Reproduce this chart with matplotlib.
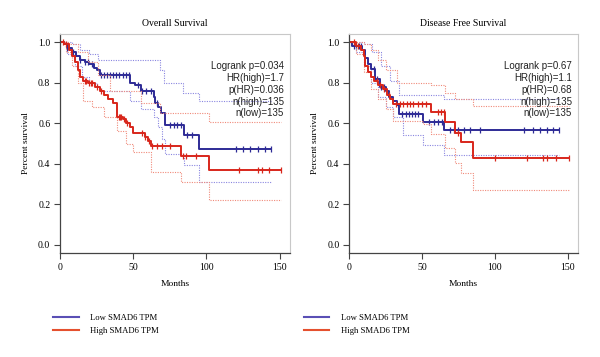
import numpy as np
import matplotlib
matplotlib.use("Agg")
import matplotlib.pyplot as plt
from matplotlib.lines import Line2D

# ── Overall survival ──────────────────────────────────────────────
os_low_t = [0, 3, 5, 8, 11, 14, 17, 20, 23, 25, 27, 48, 51, 55, 64, 65, 67, 69, 72, 85, 95, 144]
os_low_s = [1.0, 0.99, 0.97, 0.95, 0.93, 0.91, 0.90, 0.89, 0.87, 0.86, 0.84, 0.80, 0.79, 0.76,
            0.73, 0.70, 0.68, 0.65, 0.59, 0.54, 0.475, 0.475]
os_low_cens = [5, 9, 14, 17, 19, 22, 28, 30, 32, 34, 36, 38, 40, 43, 45, 47, 53, 56, 59, 62,
               66, 75, 78, 80, 83, 87, 90, 120, 125, 130, 135, 140, 144]
os_low_up_t = [0, 8, 14, 20, 26, 66, 68, 71, 84, 95, 144]
os_low_up_s = [1.0, 0.99, 0.96, 0.94, 0.91, 0.91, 0.86, 0.80, 0.75, 0.71, 0.71]
os_low_lo_t = [0, 5, 10, 15, 20, 25, 27, 48, 55, 64, 67, 70, 72, 85, 95, 144]
os_low_lo_s = [1.0, 0.94, 0.88, 0.83, 0.80, 0.78, 0.76, 0.71, 0.67, 0.63, 0.58, 0.52, 0.45,
               0.395, 0.31, 0.31]

os_high_t = [0, 3, 6, 8, 10, 12, 14, 16, 19, 24, 27, 30, 33, 36, 39, 43, 45, 48, 50, 58, 60,
             62, 83, 102, 151]
os_high_s = [1.0, 0.99, 0.96, 0.93, 0.90, 0.86, 0.83, 0.81, 0.80, 0.78, 0.76, 0.74, 0.72, 0.70,
             0.63, 0.62, 0.60, 0.58, 0.55, 0.53, 0.51, 0.49, 0.44, 0.37, 0.37]
os_high_cens = [2, 4, 17, 18, 20, 21, 22, 25, 28, 40, 41, 42, 44, 46, 56, 58, 61, 63, 66, 70,
                75, 84, 86, 93, 122, 135, 138, 143, 151]
os_high_up_t = [0, 6, 12, 19, 26, 34, 55, 68, 102, 151]
os_high_up_s = [1.0, 0.99, 0.95, 0.90, 0.84, 0.76, 0.70, 0.65, 0.605, 0.605]
os_high_lo_t = [0, 4, 8, 12, 16, 22, 30, 39, 45, 50, 62, 83, 102, 151]
os_high_lo_s = [1.0, 0.95, 0.88, 0.80, 0.71, 0.68, 0.63, 0.56, 0.50, 0.46, 0.36, 0.31, 0.22, 0.22]

# ── Disease free survival ─────────────────────────────────────────
dfs_low_t = [0, 2, 9, 11, 13, 15, 18, 21, 25, 27, 30, 33, 34, 51, 65, 144]
dfs_low_s = [1.0, 0.98, 0.96, 0.92, 0.89, 0.865, 0.82, 0.78, 0.76, 0.73, 0.71, 0.69, 0.645,
             0.605, 0.565, 0.565]
dfs_low_cens = [3, 5, 7, 8, 17, 19, 22, 24, 36, 39, 41, 43, 45, 47, 55, 58, 61, 64, 69, 72, 75,
                79, 83, 90, 120, 126, 131, 136, 140, 144]
dfs_low_up_t = [0, 10, 16, 22, 28, 34, 65, 144]
dfs_low_up_s = [1.0, 0.99, 0.95, 0.88, 0.81, 0.74, 0.72, 0.72]
dfs_low_lo_t = [0, 5, 10, 15, 20, 25, 30, 37, 51, 65, 144]
dfs_low_lo_s = [1.0, 0.95, 0.88, 0.80, 0.73, 0.68, 0.63, 0.54, 0.495, 0.445, 0.445]

dfs_high_t = [0, 5, 8, 10, 11, 13, 15, 17, 20, 23, 26, 28, 30, 56, 66, 73, 77, 85, 151]
dfs_high_s = [1.0, 0.98, 0.96, 0.93, 0.88, 0.85, 0.83, 0.81, 0.79, 0.77, 0.74, 0.72, 0.695,
              0.655, 0.605, 0.55, 0.505, 0.43, 0.43]
dfs_high_cens = [3, 6, 19, 21, 24, 27, 32, 35, 37, 40, 42, 44, 47, 50, 53, 61, 63, 65, 75, 100,
                 122, 133, 136, 142, 151]
dfs_high_up_t = [0, 10, 15, 20, 25, 33, 56, 66, 73, 85, 151]
dfs_high_up_s = [1.0, 0.99, 0.96, 0.91, 0.86, 0.80, 0.79, 0.75, 0.72, 0.685, 0.685]
dfs_high_lo_t = [0, 5, 10, 15, 20, 25, 30, 51, 56, 66, 73, 77, 85, 151]
dfs_high_lo_s = [1.0, 0.94, 0.85, 0.77, 0.72, 0.67, 0.61, 0.595, 0.545, 0.48, 0.405, 0.355,
                 0.27, 0.27]

os_stats = ["Logrank p=0.034", "HR(high)=1.7", "p(HR)=0.036", "n(high)=135", "n(low)=135"]
dfs_stats = ["Logrank p=0.67", "HR(high)=1.1", "p(HR)=0.68", "n(high)=135", "n(low)=135"]
legend_labels = ["Low SMAD6 TPM", "High SMAD6 TPM"]

BLUE = "#2e2b96"
RED = "#d8261b"
BLUE_CI = "#8a86e0"
RED_CI = "#f08a7a"
SERIF = "Liberation Serif"
SANS = "Liberation Sans"


def surv_at(t, s, x):
    idx = np.searchsorted(t, x, side="right") - 1
    return np.asarray(s)[idx]


def draw_km(ax, t, s, cens, up_t, up_s, lo_t, lo_s, col, ci_col):
    ax.step(up_t, up_s, where="post", color=ci_col, lw=0.8, ls=(0, (1, 1.2)))
    ax.step(lo_t, lo_s, where="post", color=ci_col, lw=0.8, ls=(0, (1, 1.2)))
    ax.step(t, s, where="post", color=col, lw=1.4)
    ax.plot(cens, surv_at(t, s, cens), ls="none", marker="|", ms=5, mew=0.9, color=col)


def style_axes(ax, title, stats):
    ax.set_xlim(0, 157)
    ax.set_ylim(-0.04, 1.04)
    ax.set_xticks([0, 50, 100, 150])
    ax.set_yticks([0.0, 0.2, 0.4, 0.6, 0.8, 1.0])
    ax.set_yticklabels(["0.0", "0.2", "0.4", "0.6", "0.8", "1.0"])
    for lab in ax.get_xticklabels() + ax.get_yticklabels():
        lab.set_family(SERIF)
        lab.set_fontsize(7)
    ax.tick_params(direction="out", length=4, width=0.8, color="#444444", pad=3)
    for side in ["left", "bottom"]:
        ax.spines[side].set_color("#444444")
        ax.spines[side].set_linewidth(0.9)
    for side in ["top", "right"]:
        ax.spines[side].set_color("#c8c8c8")
        ax.spines[side].set_linewidth(0.8)
    ax.set_title(title, family=SERIF, fontsize=7, pad=6)
    ax.set_xlabel("Months", family=SERIF, fontsize=6.8, labelpad=6)
    ax.set_ylabel("Percent survival", family=SERIF, fontsize=6.8, labelpad=6)
    ax.text(0.975, 0.875, "\n".join(stats), transform=ax.transAxes, ha="right", va="top",
            family=SANS, fontsize=7, linespacing=1.22, color="#222222")


fig = plt.figure(figsize=(6, 3.57), dpi=100)
ax1 = fig.add_axes([0.100, 0.291, 0.383, 0.614])
ax2 = fig.add_axes([0.582, 0.291, 0.381, 0.614])

draw_km(ax1, os_low_t, os_low_s, os_low_cens, os_low_up_t, os_low_up_s, os_low_lo_t,
        os_low_lo_s, BLUE, BLUE_CI)
draw_km(ax1, os_high_t, os_high_s, os_high_cens, os_high_up_t, os_high_up_s, os_high_lo_t,
        os_high_lo_s, RED, RED_CI)
style_axes(ax1, "Overall Survival", os_stats)

draw_km(ax2, dfs_low_t, dfs_low_s, dfs_low_cens, dfs_low_up_t, dfs_low_up_s, dfs_low_lo_t,
        dfs_low_lo_s, BLUE, BLUE_CI)
draw_km(ax2, dfs_high_t, dfs_high_s, dfs_high_cens, dfs_high_up_t, dfs_high_up_s, dfs_high_lo_t,
        dfs_high_lo_s, RED, RED_CI)
style_axes(ax2, "Disease Free Survival", dfs_stats)

# legends below each panel
handles = [Line2D([], [], color="#5a4fb5", lw=1.5), Line2D([], [], color="#e5502e", lw=1.5)]
for x0 in [0.075, 0.493]:
    fig.legend(handles, legend_labels, loc="upper left", bbox_to_anchor=(x0, 0.142),
               frameon=False, handlelength=3.0, handletextpad=1.3, labelspacing=0.55,
               prop={"family": SERIF, "size": 6.2})

fig.savefig("out.png", dpi=100)
